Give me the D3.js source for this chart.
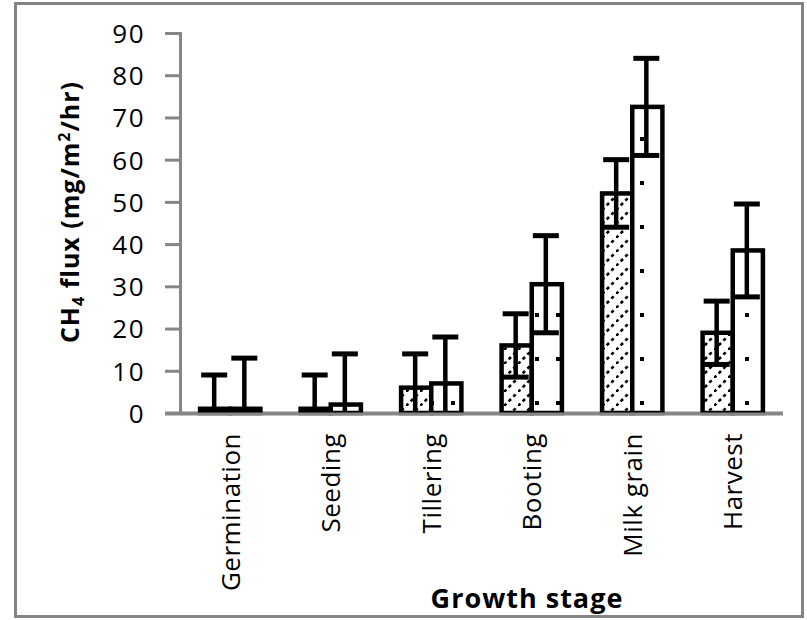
<!DOCTYPE html>
<html><head><meta charset="utf-8">
<script src="https://cdn.jsdelivr.net/npm/d3@7"></script>
<style>body{margin:0;background:#fff}</style>
</head><body>
<svg id="c" width="807" height="620"></svg>
<script>
const categories = ["Germination","Seeding","Tillering","Booting","Milk grain","Harvest"];
const seriesNames = ["A","B"];
const valuesA = [1, 1, 6, 16, 52, 19];
const errorsA = [8, 8, 8, 7.5, 8, 7.5];
const valuesB = [1, 2, 7, 30.5, 72.5, 38.5];
const errorsB = [12, 12, 11, 11.5, 11.5, 11];
const yTicks = [0,10,20,30,40,50,60,70,80,90];

const svg = d3.select("#c");
const pLeft = 180, pRight = 783, pTop = 33, pBottom = 413;

// frame
svg.append("rect").attr("x",15.5).attr("y",3.5).attr("width",787).attr("height",613)
  .attr("fill","#fff").attr("stroke","#848484").attr("stroke-width",3);

const defs = svg.append("defs");
const pA = defs.append("pattern").attr("id","pA").attr("patternUnits","userSpaceOnUse")
  .attr("width",14).attr("height",14);
pA.append("rect").attr("width",14).attr("height",14).attr("fill","#fff");
pA.append("line").attr("x1",0).attr("y1",14).attr("x2",14).attr("y2",0)
  .attr("stroke","#000").attr("stroke-width",2.6).attr("stroke-dasharray","3.3 3.3");
const pB = defs.append("pattern").attr("id","pB").attr("patternUnits","userSpaceOnUse")
  .attr("width",21).attr("height",44);
pB.append("rect").attr("width",21).attr("height",44).attr("fill","#fff");
pB.append("rect").attr("x",10).attr("y",5).attr("width",4).attr("height",4).attr("fill","#000");
defs.append("clipPath").attr("id","plotclip").append("rect")
  .attr("x",0).attr("y",0).attr("width",807).attr("height",pBottom);

const x = d3.scaleBand().domain(categories).range([pLeft,pRight]).paddingInner(0.4).paddingOuter(0.2);
const xs = d3.scaleBand().domain(seriesNames).range([0,x.bandwidth()]);
const y = d3.scaleLinear().domain([0,90]).range([pBottom,pTop]);

// y axis
const yAxis = svg.append("g").attr("transform",`translate(${pLeft},0)`)
  .call(d3.axisLeft(y).tickValues(yTicks).tickSize(15).tickPadding(20).tickFormat(d3.format("d")));
yAxis.select(".domain").attr("stroke","#868686").attr("stroke-width",3);
yAxis.selectAll(".tick line").attr("stroke","#868686").attr("stroke-width",3);
yAxis.selectAll(".tick text").attr("font-family","Open Sans").attr("font-size",26)
  .attr("letter-spacing","1.5px").attr("fill","#000").attr("dy","0.36em");

// x axis
const xAxis = svg.append("g").attr("transform",`translate(0,${pBottom})`)
  .call(d3.axisBottom(x).tickSize(0).tickPadding(0));
xAxis.select(".domain").attr("stroke","#868686").attr("stroke-width",3)
  .attr("d",`M${pLeft-15},0H${pRight}`);
xAxis.selectAll(".tick text").attr("font-family","Open Sans").attr("font-size",26)
  .attr("letter-spacing","0.5px").attr("fill","#000")
  .attr("transform","rotate(-90)").attr("text-anchor","end")
  .attr("x",-20).attr("y",0).attr("dy","0.36em");

const series = [
  {name:"A", vals:valuesA, errs:errorsA, fill:"url(#pA)"},
  {name:"B", vals:valuesB, errs:errorsB, fill:"url(#pB)"}
];

const gBars = svg.append("g");
series.forEach(s => {
  gBars.selectAll(null).data(categories).enter().append("rect")
    .attr("x", d => x(d) + xs(s.name))
    .attr("width", xs.bandwidth())
    .attr("y", (d,i) => y(s.vals[i]))
    .attr("height", (d,i) => pBottom - y(s.vals[i]))
    .attr("fill", s.fill).attr("stroke","#000").attr("stroke-width",4.5);
});

const gErr = svg.append("g").attr("clip-path","url(#plotclip)");
const capW = 26;
series.forEach(s => {
  categories.forEach((c,i) => {
    const cx = x(c) + xs(s.name) + xs.bandwidth()/2 - 1;
    const hi = y(s.vals[i] + s.errs[i]), lo = y(s.vals[i] - s.errs[i]);
    gErr.append("line").attr("x1",cx).attr("x2",cx).attr("y1",hi).attr("y2",lo)
      .attr("stroke","#000").attr("stroke-width",4.5);
    [hi, lo].forEach(yy => gErr.append("line").attr("x1",cx-capW/2).attr("x2",cx+capW/2)
      .attr("y1",yy).attr("y2",yy).attr("stroke","#000").attr("stroke-width",5));
  });
});
// x axis line on top
svg.append("line").attr("x1",pLeft-15).attr("x2",pRight).attr("y1",pBottom+1).attr("y2",pBottom+1)
  .attr("stroke","#868686").attr("stroke-width",3);

// y title
const yt = svg.append("text").attr("transform","translate(79,212) rotate(-90)")
  .attr("text-anchor","middle").attr("font-family","Open Sans").attr("font-weight","bold")
  .attr("font-size",25).attr("letter-spacing","1px").attr("fill","#000");
yt.append("tspan").text("CH");
yt.append("tspan").text("4").attr("font-size",16).attr("dy",5);
yt.append("tspan").text(" flux (mg/m").attr("dy",-5);
yt.append("tspan").text("2").attr("font-size",16).attr("dy",-9);
yt.append("tspan").text("/hr)").attr("dy",9);

// x title
svg.append("text").attr("x",527).attr("y",608).attr("text-anchor","middle")
  .attr("font-family","Open Sans").attr("font-weight","bold").attr("font-size",27)
  .attr("letter-spacing","1px").attr("fill","#000").text("Growth stage");
</script>
</body></html>
